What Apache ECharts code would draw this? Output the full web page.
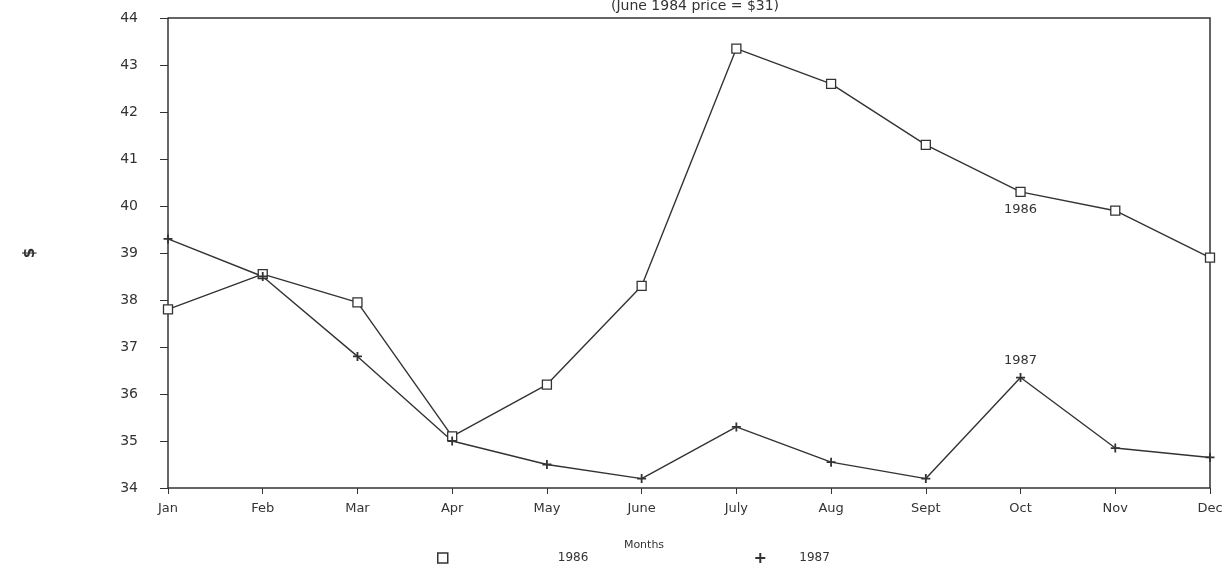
<!DOCTYPE html>
<html>
<head>
<meta charset="utf-8">
<script src="https://cdn.jsdelivr.net/npm/echarts@6/dist/echarts.min.js"></script>
<style>
  html, body { margin: 0; padding: 0; background: #fff; }
  #chart { width: 1226px; height: 571px; }
</style>
</head>
<body>
<div id="chart"></div>
<script>
// months on the x axis
const months = ['Jan', 'Feb', 'Mar', 'Apr', 'May', 'June', 'July', 'Aug', 'Sept', 'Oct', 'Nov', 'Dec'];
// price per month
const prices1986 = [37.8, 38.55, 37.95, 35.1, 36.2, 38.3, 43.35, 42.6, 41.3, 40.3, 39.9, 38.9];
const prices1987 = [39.3, 38.5, 36.8, 35.0, 34.5, 34.2, 35.3, 34.55, 34.2, 36.35, 34.85, 34.65];
const seriesNames = ['1986', '1987'];
const labelIndex = 9; // Oct, where the year tags sit

const ink = '#333';
const font = 'DejaVu Sans';
const plusPath = 'path://M4,0L6,0L6,4L10,4L10,6L6,6L6,10L4,10L4,6L0,6L0,4L4,4Z';

function tagged(values, name, pos) {
    return values.map((v, i) => {
        if (i !== labelIndex) return v;
        return {
            value: v,
            label: {
                show: true, formatter: name, position: pos, distance: 6,
                color: ink, fontSize: 13, fontFamily: font
            }
        };
    });
}

const chart = echarts.init(document.getElementById('chart'));
chart.setOption({
    animation: false,
    title: {
        text: '(June 1984 price = $31)',
        left: 690, textAlign: 'center', top: -6,
        textStyle: { fontSize: 14, fontWeight: 'normal', color: ink, fontFamily: font }
    },
    legend: {
        bottom: 2, left: 432,
        itemGap: 167,
        itemWidth: 10, itemHeight: 10,
        textStyle: { color: ink, fontSize: 12, fontFamily: font },
        data: [
            { name: seriesNames[0], icon: 'rect', itemStyle: { color: '#fff', borderColor: ink, borderWidth: 1.5 },
              textStyle: { padding: [0, 0, 0, 105] } },
            { name: seriesNames[1], icon: plusPath, itemStyle: { color: ink },
              textStyle: { padding: [0, 0, 0, 29] } }
        ]
    },
    grid: { left: 168, right: 16, top: 18, bottom: 83 },
    xAxis: {
        type: 'category',
        data: months,
        boundaryGap: false,
        name: 'Months',
        nameLocation: 'middle',
        nameGap: 52,
        nameTextStyle: { color: ink, fontSize: 11, fontFamily: font, padding: [0, 90, 0, 0] },
        axisLine: { lineStyle: { color: ink, width: 1.5 } },
        axisTick: { alignWithLabel: true, length: 6, lineStyle: { color: ink } },
        axisLabel: { color: ink, fontSize: 13, fontFamily: font, margin: 14 },
        splitLine: { show: false }
    },
    yAxis: {
        type: 'value',
        min: 34, max: 44, interval: 1,
        name: '$',
        nameLocation: 'middle',
        nameRotate: 90,
        nameGap: 130,
        nameTextStyle: { color: ink, fontSize: 15, fontWeight: 'bold', fontFamily: font },
        axisLine: { show: true, lineStyle: { color: ink, width: 1.5 } },
        axisTick: { show: true, length: 8, lineStyle: { color: ink } },
        axisLabel: { color: ink, fontSize: 14, fontFamily: font, margin: 30 },
        splitLine: { show: false }
    },
    graphic: [
        // top and right frame of the plot box
        { type: 'polyline', shape: { points: [[168, 18], [1210, 18], [1210, 488]] },
          style: { fill: null, stroke: ink, lineWidth: 1.5 }, silent: true }
    ],
    series: [
        {
            name: seriesNames[0],
            type: 'line',
            data: tagged(prices1986, seriesNames[0], 'bottom'),
            symbol: 'rect',
            symbolSize: 9,
            lineStyle: { color: ink, width: 1.4 },
            itemStyle: { color: '#fff', borderColor: ink, borderWidth: 1.3 }
        },
        {
            name: seriesNames[1],
            type: 'line',
            data: tagged(prices1987, seriesNames[1], 'top'),
            symbol: plusPath,
            symbolSize: 9,
            lineStyle: { color: ink, width: 1.4 },
            itemStyle: { color: ink }
        }
    ]
});
window.addEventListener('resize', function () {
    chart.resize();
});
</script>
</body>
</html>
